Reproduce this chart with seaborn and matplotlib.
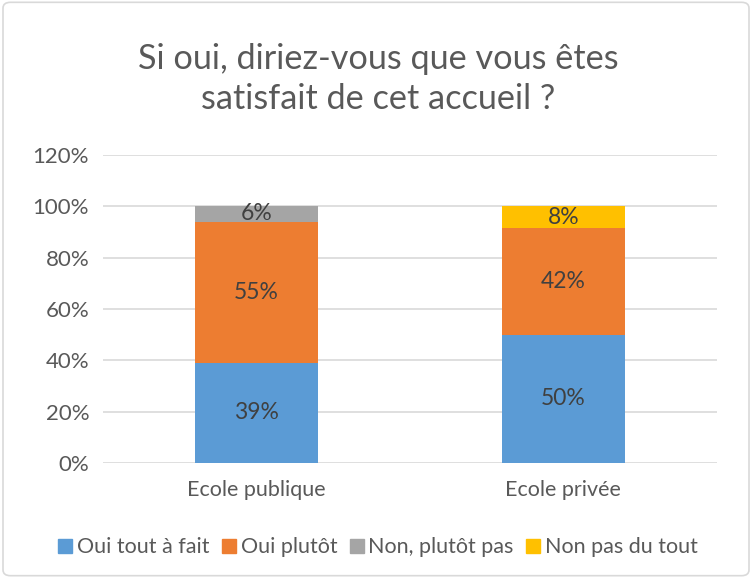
import numpy as np
import pandas as pd
import matplotlib.pyplot as plt
from matplotlib.patches import FancyBboxPatch
from matplotlib.lines import Line2D
import seaborn as sns

# Data
ecoles = ['Ecole publique', 'Ecole privée']
reponses = ['Oui tout à fait', 'Oui plutôt', 'Non, plutôt pas', 'Non pas du tout']
oui_tout_a_fait = [39, 50]
oui_plutot = [55, 41.5]
non_plutot_pas = [6, 0]
non_pas_du_tout = [0, 8.5]
couleurs = ['#5b9bd5', '#ed7d31', '#a5a5a5', '#ffc000']

sns.set_theme(style='white')
plt.rcParams['font.family'] = ['Lato', 'DejaVu Sans']

series = [oui_tout_a_fait, oui_plutot, non_plutot_pas, non_pas_du_tout]
cumul = np.cumsum(np.array(series), axis=0)

fig = plt.figure(figsize=(7.52, 5.78), dpi=100)
ax = fig.add_axes([0.137, 0.199, 0.816, 0.533])

# stacked bars: draw the biggest cumulative first, then overlay smaller ones
for i in range(len(series) - 1, -1, -1):
    df = pd.DataFrame({'ecole': ecoles, 'val': cumul[i]})
    sns.barplot(data=df, x='ecole', y='val', color=couleurs[i], width=0.4,
                saturation=1, linewidth=0, ax=ax, zorder=2)

# labels in the middle of each segment
for i, s in enumerate(series):
    for j, v in enumerate(s):
        if v > 0:
            centre = cumul[i][j] - v / 2
            ax.text(j, centre, '{:.0f}%'.format(v), ha='center', va='center',
                    fontsize=16.5, color='#404040', zorder=3)

ax.set_ylim(0, 120)
ax.set_xlim(-0.5, 1.5)
ax.set_yticks(range(0, 121, 20))
ax.set_yticklabels(['{}%'.format(t) for t in range(0, 121, 20)])
ax.yaxis.grid(True, color='#d9d9d9', linewidth=1.2, zorder=0)
ax.set_axisbelow(True)
ax.tick_params(axis='y', labelsize=16, colors='#595959', length=0, pad=10)
ax.tick_params(axis='x', labelsize=15.5, colors='#595959', length=0, pad=12)
ax.set_xlabel('')
ax.set_ylabel('')
sns.despine(ax=ax, left=True, bottom=True)

fig.text(0.503, 0.864, 'Si oui, diriez-vous que vous êtes\nsatisfait de cet accueil ?',
         ha='center', va='center', fontsize=24.7, color='#595959', linespacing=1.3)

handles = [Line2D([0], [0], marker='s', linestyle='', markersize=10,
                  markerfacecolor=c, markeredgecolor=c) for c in couleurs]
fig.legend(handles, reponses, loc='center', bbox_to_anchor=(0.5, 0.053), ncol=4,
           frameon=False, fontsize=15.5, labelcolor='#595959', handletextpad=0.05,
           columnspacing=0.4, handlelength=1.0)

border = FancyBboxPatch((0.004, 0.004), 0.992, 0.992, boxstyle='round,pad=0,rounding_size=0.01',
                        transform=fig.transFigure, fill=False, edgecolor='#d9d9d9', linewidth=1.2)
fig.patches.append(border)

fig.savefig('out.png', dpi=100)
